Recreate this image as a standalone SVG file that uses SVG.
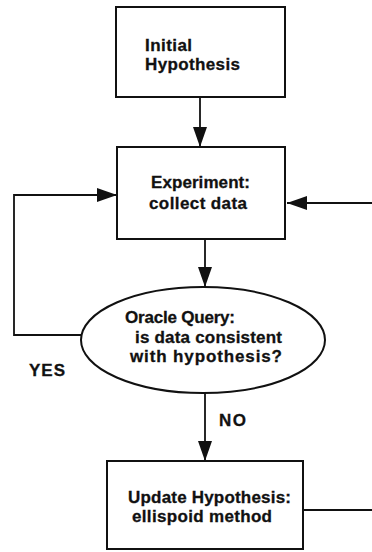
<svg xmlns="http://www.w3.org/2000/svg" width="372" height="552" viewBox="0 0 372 552">
  <style>
    .box { fill: #ffffff; stroke: #111111; stroke-width: 2; }
    .line { fill: none; stroke: #111111; stroke-width: 1.8; }
    .lbl { font-family: "Liberation Sans", Arial, sans-serif; font-weight: bold; font-size: 17px; fill: #111111; stroke: #111111; stroke-width: 0.3; }
  </style>
  <defs>
    <marker id="arrow" markerUnits="userSpaceOnUse" markerWidth="22" markerHeight="16" refX="20" refY="7" orient="auto">
      <path d="M0,0 L20,7 L0,14 Z" fill="#111111"/>
    </marker>
  </defs>
  <rect width="372" height="552" fill="#ffffff"/>

  <g id="connectors">
    <!-- start -> experiment -->
    <line class="line" x1="200" y1="97" x2="200" y2="147" marker-end="url(#arrow)"/>
    <!-- experiment -> oracle -->
    <line class="line" x1="205" y1="239" x2="205" y2="287" marker-end="url(#arrow)"/>
    <!-- oracle -> update (NO) -->
    <line class="line" x1="205" y1="393" x2="205" y2="461" marker-end="url(#arrow)"/>
    <!-- YES loop back to experiment -->
    <path class="line" d="M81,335 H14 V195 H117" marker-end="url(#arrow)"/>
    <!-- update loops back to experiment from the right -->
    <line class="line" x1="303" y1="510" x2="372" y2="510"/>
    <line class="line" x1="372" y1="203" x2="287" y2="203" marker-end="url(#arrow)"/>
    <text class="lbl" x="29" y="376" textLength="36">YES</text>
    <text class="lbl" x="219" y="426" textLength="27">NO</text>
  </g>

  <g id="initial">
    <rect class="box" x="116" y="7" width="169" height="90"/>
    <text class="lbl" x="145" y="51" textLength="47">Initial</text>
    <text class="lbl" x="145" y="70" textLength="95">Hypothesis</text>
  </g>

  <g id="experiment">
    <rect class="box" x="117" y="147" width="168" height="92"/>
    <text class="lbl" x="151" y="188" textLength="99">Experiment:</text>
    <text class="lbl" x="149" y="209" textLength="98">collect data</text>
  </g>

  <g id="oracle">
    <ellipse class="box" cx="203" cy="340" rx="122" ry="53"/>
    <text class="lbl" x="125" y="323" textLength="110">Oracle Query:</text>
    <text class="lbl" x="135" y="343" textLength="147">is data consistent</text>
    <text class="lbl" x="130" y="362" textLength="152">with hypothesis?</text>
  </g>

  <g id="update">
    <rect class="box" x="107" y="461" width="196" height="88"/>
    <text class="lbl" x="128" y="503" textLength="163">Update Hypothesis:</text>
    <text class="lbl" x="132" y="522" textLength="140">ellispoid method</text>
  </g>
</svg>
